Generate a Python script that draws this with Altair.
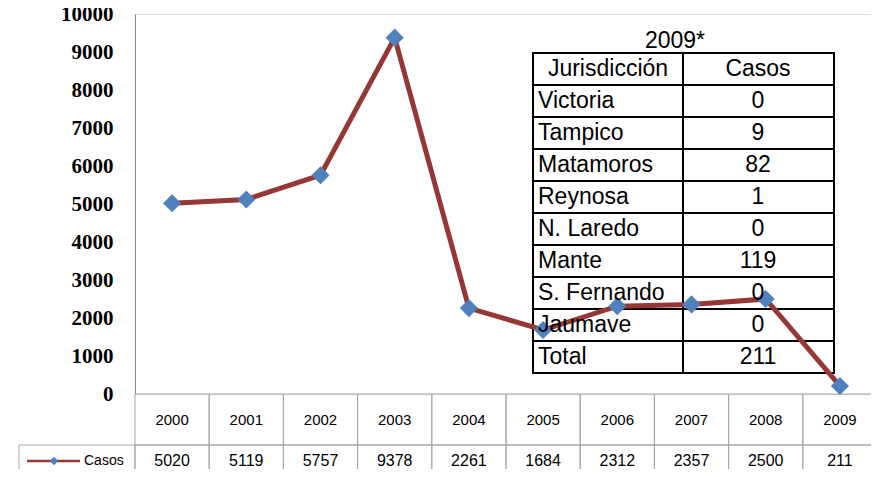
import altair as alt
import pandas as pd

# ---- data ----
years = ["2000", "2001", "2002", "2003", "2004", "2005", "2006", "2007", "2008", "2009"]
casos = [5020, 5119, 5757, 9378, 2261, 1684, 2312, 2357, 2500, 211]
y_ticks = [0, 1000, 2000, 3000, 4000, 5000, 6000, 7000, 8000, 9000, 10000]

juris = ["Victoria", "Tampico", "Matamoros", "Reynosa", "N. Laredo", "Mante",
         "S. Fernando", "Jaumave", "Total"]
juris_casos = [0, 9, 82, 1, 0, 119, 0, 0, 211]

df = pd.DataFrame({"year": years, "casos": casos})
df["label"] = df["casos"].astype(str)

tbl = pd.DataFrame({"row": list(range(1, len(juris) + 1)), "name": juris,
                    "val": [str(v) for v in juris_casos]})
hdr = pd.DataFrame({"row": [0], "name": ["Jurisdicción"], "val": ["Casos"]})
tbl_all = pd.concat([hdr, tbl], ignore_index=True)
one = pd.DataFrame({"k": [0]})

LINE = "#953735"
MARK = "#4F81BD"
GRID = "#A6A6A6"

xband = alt.Scale(type="band", paddingInner=0, paddingOuter=0, range=[0, 742])
X = alt.X("year:O", scale=xband, axis=None)
Xc = alt.X("year:O", scale=xband, axis=None, bandPosition=0.5)

yscale = alt.Scale(domain=[0, 10000], nice=False, zero=True)
yaxis = alt.Axis(values=y_ticks, grid=False, ticks=False, labelPadding=22,
                 labelFont="Liberation Serif", labelFontWeight="bold",
                 labelFontSize=21, labelColor="#000000",
                 domainColor="#868686", domainWidth=1, format="d")

line = alt.Chart(df).mark_line(color=LINE, strokeWidth=5).encode(
    x=Xc, y=alt.Y("casos:Q", scale=yscale, title=None, axis=yaxis),
)
points = alt.Chart(df).mark_point(shape="diamond", filled=True, size=330,
                                  color=MARK, opacity=1).encode(
    x=Xc, y=alt.Y("casos:Q", scale=yscale, title=None, axis=yaxis)
)
series = alt.layer(line, points)

# data table under the axis
cell_top = alt.Chart(df).mark_rect(fill="transparent", stroke=GRID, strokeWidth=1).encode(
    x=X, y=alt.value(380), y2=alt.value(431))
cell_bot = alt.Chart(df).mark_rect(fill="transparent", stroke=GRID, strokeWidth=1).encode(
    x=X, y=alt.value(431), y2=alt.value(520))
year_txt = alt.Chart(df).mark_text(font="Liberation Sans", fontSize=15, color="#000000").encode(
    x=Xc, y=alt.value(406), text="year:N")
val_txt = alt.Chart(df).mark_text(font="Liberation Sans", fontSize=16, color="#000000").encode(
    x=Xc, y=alt.value(447), text="label:N")
leg_cell = alt.Chart(one).mark_rect(fill="transparent", stroke=GRID, strokeWidth=1).encode(
    x=alt.value(-116), x2=alt.value(0), y=alt.value(431), y2=alt.value(520))
leg_line = alt.Chart(one).mark_rule(color=LINE, strokeWidth=2.5).encode(
    x=alt.value(-108), x2=alt.value(-55), y=alt.value(447))
leg_pt = alt.Chart(one).mark_point(shape="diamond", filled=True, size=70,
                                   color=MARK, opacity=1).encode(
    x=alt.value(-81), y=alt.value(447))
leg_txt = alt.Chart(pd.DataFrame({"t": ["Casos"]})).mark_text(
    font="Liberation Sans", fontSize=14, align="left", color="#000000").encode(
    x=alt.value(-51), y=alt.value(447), text="t:N")

# embedded jurisdiction table
rscale = alt.Scale(type="band", domain=list(range(10)), range=[39, 359],
                   paddingInner=0, paddingOuter=0)
R = alt.Y("row:O", scale=rscale, axis=None)
tbase = alt.Chart(tbl_all)
t_left = tbase.mark_rect(fill="transparent", stroke="#000000", strokeWidth=2).encode(
    x=alt.value(398), x2=alt.value(548), y=R)
t_right = tbase.mark_rect(fill="transparent", stroke="#000000", strokeWidth=2).encode(
    x=alt.value(548), x2=alt.value(699), y=R)
names = alt.Chart(tbl).mark_text(font="Liberation Sans", fontSize=23, align="left",
                                 color="#000000").encode(
    x=alt.value(403), y=R, text="name:N")
hdr_name = alt.Chart(hdr).mark_text(font="Liberation Sans", fontSize=23, align="center",
                                    color="#000000").encode(
    x=alt.value(473), y=R, text="name:N")
vals = tbase.mark_text(font="Liberation Sans", fontSize=23, align="center",
                       color="#000000").encode(
    x=alt.value(623), y=R, text="val:N")
ttl = alt.Chart(pd.DataFrame({"t": ["2009*"]})).mark_text(
    font="Liberation Sans", fontSize=23, align="center", color="#000000").encode(
    x=alt.value(540), y=alt.value(27), text="t:N")

table_lines = alt.layer(t_left, t_right)
table_text = alt.layer(names, hdr_name, vals, ttl)

main = alt.layer(cell_top, cell_bot, leg_cell, year_txt, val_txt,
                 leg_line, leg_pt, leg_txt)

chart = alt.layer(
    table_lines, main, series, table_text
).resolve_scale(y="independent").properties(
    width=736, height=380,
    padding={"left": 127, "top": 6, "right": 0, "bottom": 75},
    autosize=alt.AutoSizeParams(type="none"),
).configure_view(stroke="transparent", strokeWidth=0).configure(background="white")

chart.save("out.html", embed_options={"renderer": "svg", "actions": False})
